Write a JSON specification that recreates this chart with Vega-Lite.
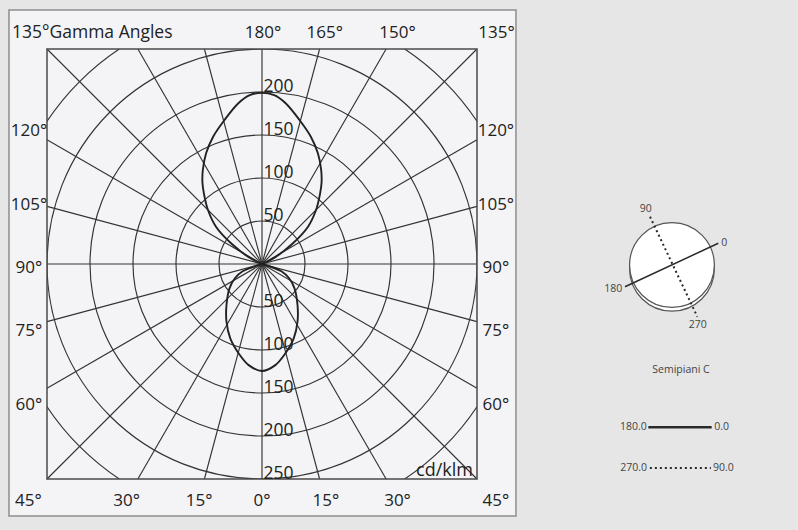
{
  "$schema": "https://vega.github.io/schema/vega-lite/v6.json",
  "width": 430,
  "height": 430,
  "autosize": {"type": "none"},
  "padding": {"left": 47, "top": 49, "right": 321, "bottom": 51},
  "background": "#e6e6e6",
  "config": {"view": {"stroke": null, "fill": null}, "text": {"font": "Open Sans"}},
  "datasets": {
    "rings": [{"r": 50}, {"r": 100}, {"r": 150}, {"r": 200}, {"r": 250}, {"r": 300}],
    "spokes": [
      {"xa": 0, "ya": 250, "xb": 0, "yb": -250},
      {"xa": 66.99, "ya": 250, "xb": -66.99, "yb": -250},
      {"xa": -66.99, "ya": 250, "xb": 66.99, "yb": -250},
      {"xa": 144.34, "ya": 250, "xb": -144.34, "yb": -250},
      {"xa": -144.34, "ya": 250, "xb": 144.34, "yb": -250},
      {"xa": 250, "ya": 250, "xb": -250, "yb": -250},
      {"xa": -250, "ya": 250, "xb": 250, "yb": -250},
      {"xa": 250, "ya": 144.34, "xb": -250, "yb": -144.34},
      {"xa": -250, "ya": 144.34, "xb": 250, "yb": -144.34},
      {"xa": 250, "ya": 66.99, "xb": -250, "yb": -66.99},
      {"xa": -250, "ya": 66.99, "xb": 250, "yb": -66.99},
      {"xa": 250, "ya": 0, "xb": -250, "yb": 0}
    ],
    "lobes": [
      {"lobe": "up", "o": 0, "x": 0, "y": 0},
      {"lobe": "up", "o": 1, "x": 16.3, "y": 8.5},
      {"lobe": "up", "o": 2, "x": 36, "y": 24.1},
      {"lobe": "up", "o": 3, "x": 53.5, "y": 43.4},
      {"lobe": "up", "o": 4, "x": 62.8, "y": 62.8},
      {"lobe": "up", "o": 5, "x": 67.6, "y": 82.2},
      {"lobe": "up", "o": 6, "x": 69.3, "y": 95.3},
      {"lobe": "up", "o": 7, "x": 68.8, "y": 109.3},
      {"lobe": "up", "o": 8, "x": 65, "y": 128.7},
      {"lobe": "up", "o": 9, "x": 56.8, "y": 148},
      {"lobe": "up", "o": 10, "x": 43.6, "y": 167.4},
      {"lobe": "up", "o": 11, "x": 27.5, "y": 186.9},
      {"lobe": "up", "o": 12, "x": 14.2, "y": 196.3},
      {"lobe": "up", "o": 13, "x": 0, "y": 199.2},
      {"lobe": "up", "o": 14, "x": -14.2, "y": 196.3},
      {"lobe": "up", "o": 15, "x": -27.5, "y": 186.9},
      {"lobe": "up", "o": 16, "x": -43.6, "y": 167.4},
      {"lobe": "up", "o": 17, "x": -56.8, "y": 148},
      {"lobe": "up", "o": 18, "x": -65, "y": 128.7},
      {"lobe": "up", "o": 19, "x": -68.8, "y": 109.3},
      {"lobe": "up", "o": 20, "x": -69.3, "y": 95.3},
      {"lobe": "up", "o": 21, "x": -67.6, "y": 82.2},
      {"lobe": "up", "o": 22, "x": -62.8, "y": 62.8},
      {"lobe": "up", "o": 23, "x": -53.5, "y": 43.4},
      {"lobe": "up", "o": 24, "x": -36, "y": 24.1},
      {"lobe": "up", "o": 25, "x": -16.3, "y": 8.5},
      {"lobe": "up", "o": 26, "x": 0, "y": 0},
      {"lobe": "down", "o": 0, "x": 0, "y": 0},
      {"lobe": "down", "o": 1, "x": 22.5, "y": -8.5},
      {"lobe": "down", "o": 2, "x": 31.5, "y": -16.6},
      {"lobe": "down", "o": 3, "x": 37.8, "y": -28.3},
      {"lobe": "down", "o": 4, "x": 41.3, "y": -47.7},
      {"lobe": "down", "o": 5, "x": 41.3, "y": -67.1},
      {"lobe": "down", "o": 6, "x": 36.9, "y": -86.4},
      {"lobe": "down", "o": 7, "x": 25.8, "y": -105.8},
      {"lobe": "down", "o": 8, "x": 15.5, "y": -117.6},
      {"lobe": "down", "o": 9, "x": 0, "y": -124.4},
      {"lobe": "down", "o": 10, "x": -15.5, "y": -117.6},
      {"lobe": "down", "o": 11, "x": -25.8, "y": -105.8},
      {"lobe": "down", "o": 12, "x": -36.9, "y": -86.4},
      {"lobe": "down", "o": 13, "x": -41.3, "y": -67.1},
      {"lobe": "down", "o": 14, "x": -41.3, "y": -47.7},
      {"lobe": "down", "o": 15, "x": -37.8, "y": -28.3},
      {"lobe": "down", "o": 16, "x": -31.5, "y": -16.6},
      {"lobe": "down", "o": 17, "x": -22.5, "y": -8.5},
      {"lobe": "down", "o": 18, "x": 0, "y": 0}
    ],
    "angleLabels": [
      {"t": "180°", "x": 1.2, "y": 262.4},
      {"t": "165°", "x": 72.9, "y": 262.4},
      {"t": "150°", "x": 157.6, "y": 262.4},
      {"t": "135°", "x": 272.7, "y": 262.4},
      {"t": "45°", "x": -271.7, "y": -281.4},
      {"t": "30°", "x": -157.3, "y": -281.4},
      {"t": "15°", "x": -73, "y": -281.4},
      {"t": "0°", "x": 0, "y": -281.4},
      {"t": "15°", "x": 74.2, "y": -281.4},
      {"t": "30°", "x": 157.6, "y": -281.4},
      {"t": "45°", "x": 271.9, "y": -281.4},
      {"t": "120°", "x": -271, "y": 148.3},
      {"t": "105°", "x": -271, "y": 62.8},
      {"t": "90°", "x": -271, "y": -10.5},
      {"t": "75°", "x": -271, "y": -84.3},
      {"t": "60°", "x": -271, "y": -169.8},
      {"t": "120°", "x": 272, "y": 148.3},
      {"t": "105°", "x": 272, "y": 62.8},
      {"t": "90°", "x": 272, "y": -10.5},
      {"t": "75°", "x": 272, "y": -84.3},
      {"t": "60°", "x": 272, "y": -169.8}
    ],
    "leftLabels": [
      {"t": "135°Gamma Angles", "x": -290.7, "y": 262.4},
      {"t": "50", "x": 1.7, "y": 50},
      {"t": "100", "x": 1.7, "y": 100},
      {"t": "150", "x": 1.7, "y": 150},
      {"t": "200", "x": 1.7, "y": 200},
      {"t": "50", "x": 1.7, "y": -50},
      {"t": "100", "x": 1.7, "y": -100},
      {"t": "150", "x": 1.7, "y": -150},
      {"t": "200", "x": 1.7, "y": -200},
      {"t": "250", "x": 1.7, "y": -250}
    ],
    "unitLabel": [{"t": "cd/klm", "x": 245.3, "y": -246.5}],
    "smallCenter": [
      {"t": "90", "x": 446.3, "y": 64},
      {"t": "0", "x": 537.4, "y": 24.1},
      {"t": "180", "x": 408.5, "y": -29.4},
      {"t": "270", "x": 506.6, "y": -70.6},
      {"t": "Semipiani C", "x": 487.2, "y": -123.3}
    ],
    "smallRight": [
      {"t": "180.0", "x": 447.3, "y": -190.1},
      {"t": "270.0", "x": 447.7, "y": -237.2}
    ],
    "smallLeft": [
      {"t": "0.0", "x": 525.9, "y": -190.1},
      {"t": "90.0", "x": 524.4, "y": -237.2}
    ],
    "discs": [
      {"part": "back", "x": 476.7, "y": -5.6},
      {"part": "front", "x": 476.7, "y": -1.2}
    ],
    "solidLines": [
      {"xa": 422.1, "ya": -26.4, "xb": 530.6, "yb": 24.1}
    ],
    "dottedLines": [
      {"xa": 451.2, "ya": 55, "xb": 506.2, "yb": -61.3}
    ],
    "legendSolid": [{"xa": 449.2, "ya": -189.9, "xb": 522.9, "yb": -189.9}],
    "legendDotted": [{"xa": 451, "ya": -237.2, "xb": 522, "yb": -237.2}]
  },
  "layer": [
    {
      "data": {"values": [{"id": "panel"}]},
      "mark": {"type": "rect", "fill": "#f4f4f6", "stroke": "#8e8e8e", "strokeWidth": 1.5},
      "encoding": {
        "x": {"datum": -294.2, "type": "quantitative", "scale": {"domain": [-250, 250], "nice": false, "zero": false}, "axis": null},
        "x2": {"datum": 295.3},
        "y": {"datum": 295.3, "type": "quantitative", "scale": {"domain": [-250, 250], "nice": false, "zero": false}, "axis": null},
        "y2": {"datum": -293}
      }
    },
    {
      "data": {"name": "rings"},
      "mark": {"type": "arc", "theta": 0, "theta2": 6.2832, "filled": false, "stroke": "#333333", "strokeWidth": 1.15, "clip": true},
      "encoding": {
        "radius": {"field": "r", "type": "quantitative", "stack": null, "scale": {"type": "linear", "domain": [0, 250], "range": [0, 215], "zero": true}}
      }
    },
    {
      "data": {"name": "spokes"},
      "mark": {"type": "rule", "stroke": "#333333", "strokeWidth": 1.15},
      "encoding": {
        "x": {"field": "xa", "type": "quantitative", "scale": {"domain": [-250, 250], "nice": false, "zero": false}, "axis": null},
        "y": {"field": "ya", "type": "quantitative", "scale": {"domain": [-250, 250], "nice": false, "zero": false}, "axis": null},
        "x2": {"field": "xb"},
        "y2": {"field": "yb"}
      }
    },
    {
      "data": {"values": [{"id": "square"}]},
      "mark": {"type": "rect", "fillOpacity": 0, "stroke": "#4a4a4a", "strokeWidth": 1.5},
      "encoding": {
        "x": {"datum": -250, "type": "quantitative", "scale": {"domain": [-250, 250], "nice": false, "zero": false}, "axis": null},
        "x2": {"datum": 250},
        "y": {"datum": 250, "type": "quantitative", "scale": {"domain": [-250, 250], "nice": false, "zero": false}, "axis": null},
        "y2": {"datum": -250}
      }
    },
    {
      "data": {"name": "lobes"},
      "mark": {"type": "line", "interpolate": "catmull-rom", "stroke": "#222222", "strokeWidth": 1.9},
      "encoding": {
        "x": {"field": "x", "type": "quantitative", "scale": {"domain": [-250, 250], "nice": false, "zero": false}, "axis": null},
        "y": {"field": "y", "type": "quantitative", "scale": {"domain": [-250, 250], "nice": false, "zero": false}, "axis": null},
        "detail": {"field": "lobe", "type": "nominal"},
        "order": {"field": "o", "type": "quantitative"}
      }
    },
    {
      "data": {"name": "angleLabels"},
      "mark": {"type": "text", "align": "center", "baseline": "alphabetic", "fontSize": 17, "fill": "#222222"},
      "encoding": {
        "x": {"field": "x", "type": "quantitative", "scale": {"domain": [-250, 250], "nice": false, "zero": false}, "axis": null},
        "y": {"field": "y", "type": "quantitative", "scale": {"domain": [-250, 250], "nice": false, "zero": false}, "axis": null},
        "text": {"field": "t"}
      }
    },
    {
      "data": {"name": "leftLabels"},
      "mark": {"type": "text", "align": "left", "baseline": "alphabetic", "fontSize": 17.5, "fill": "#222222"},
      "encoding": {
        "x": {"field": "x", "type": "quantitative", "scale": {"domain": [-250, 250], "nice": false, "zero": false}, "axis": null},
        "y": {"field": "y", "type": "quantitative", "scale": {"domain": [-250, 250], "nice": false, "zero": false}, "axis": null},
        "text": {"field": "t"}
      }
    },
    {
      "data": {"name": "unitLabel"},
      "mark": {"type": "text", "align": "right", "baseline": "alphabetic", "fontSize": 18, "fill": "#222222"},
      "encoding": {
        "x": {"field": "x", "type": "quantitative", "scale": {"domain": [-250, 250], "nice": false, "zero": false}, "axis": null},
        "y": {"field": "y", "type": "quantitative", "scale": {"domain": [-250, 250], "nice": false, "zero": false}, "axis": null},
        "text": {"field": "t"}
      }
    },
    {
      "data": {"name": "discs"},
      "mark": {"type": "point", "shape": "circle", "size": 7190, "filled": true, "fill": "#ffffff", "fillOpacity": 1, "stroke": "#555555", "strokeWidth": 1.2, "opacity": 1},
      "encoding": {
        "x": {"field": "x", "type": "quantitative", "scale": {"domain": [-250, 250], "nice": false, "zero": false}, "axis": null},
        "y": {"field": "y", "type": "quantitative", "scale": {"domain": [-250, 250], "nice": false, "zero": false}, "axis": null},
        "order": {"field": "part", "type": "nominal"}
      }
    },
    {
      "data": {"name": "solidLines"},
      "mark": {"type": "rule", "stroke": "#2a2a2a", "strokeWidth": 1.5},
      "encoding": {
        "x": {"field": "xa", "type": "quantitative", "scale": {"domain": [-250, 250], "nice": false, "zero": false}, "axis": null},
        "y": {"field": "ya", "type": "quantitative", "scale": {"domain": [-250, 250], "nice": false, "zero": false}, "axis": null},
        "x2": {"field": "xb"},
        "y2": {"field": "yb"}
      }
    },
    {
      "data": {"name": "dottedLines"},
      "mark": {"type": "rule", "stroke": "#2a2a2a", "strokeWidth": 2, "strokeDash": [2, 3]},
      "encoding": {
        "x": {"field": "xa", "type": "quantitative", "scale": {"domain": [-250, 250], "nice": false, "zero": false}, "axis": null},
        "y": {"field": "ya", "type": "quantitative", "scale": {"domain": [-250, 250], "nice": false, "zero": false}, "axis": null},
        "x2": {"field": "xb"},
        "y2": {"field": "yb"}
      }
    },
    {
      "data": {"name": "legendSolid"},
      "mark": {"type": "rule", "stroke": "#2a2a2a", "strokeWidth": 2.6},
      "encoding": {
        "x": {"field": "xa", "type": "quantitative", "scale": {"domain": [-250, 250], "nice": false, "zero": false}, "axis": null},
        "y": {"field": "ya", "type": "quantitative", "scale": {"domain": [-250, 250], "nice": false, "zero": false}, "axis": null},
        "x2": {"field": "xb"},
        "y2": {"field": "yb"}
      }
    },
    {
      "data": {"name": "legendDotted"},
      "mark": {"type": "rule", "stroke": "#2a2a2a", "strokeWidth": 2, "strokeDash": [2, 3]},
      "encoding": {
        "x": {"field": "xa", "type": "quantitative", "scale": {"domain": [-250, 250], "nice": false, "zero": false}, "axis": null},
        "y": {"field": "ya", "type": "quantitative", "scale": {"domain": [-250, 250], "nice": false, "zero": false}, "axis": null},
        "x2": {"field": "xb"},
        "y2": {"field": "yb"}
      }
    },
    {
      "data": {"name": "smallCenter"},
      "mark": {"type": "text", "align": "center", "baseline": "middle", "fontSize": 10.5, "fill": "#444444"},
      "encoding": {
        "x": {"field": "x", "type": "quantitative", "scale": {"domain": [-250, 250], "nice": false, "zero": false}, "axis": null},
        "y": {"field": "y", "type": "quantitative", "scale": {"domain": [-250, 250], "nice": false, "zero": false}, "axis": null},
        "text": {"field": "t"}
      }
    },
    {
      "data": {"name": "smallRight"},
      "mark": {"type": "text", "align": "right", "baseline": "middle", "fontSize": 10.5, "fill": "#444444"},
      "encoding": {
        "x": {"field": "x", "type": "quantitative", "scale": {"domain": [-250, 250], "nice": false, "zero": false}, "axis": null},
        "y": {"field": "y", "type": "quantitative", "scale": {"domain": [-250, 250], "nice": false, "zero": false}, "axis": null},
        "text": {"field": "t"}
      }
    },
    {
      "data": {"name": "smallLeft"},
      "mark": {"type": "text", "align": "left", "baseline": "middle", "fontSize": 10.5, "fill": "#444444"},
      "encoding": {
        "x": {"field": "x", "type": "quantitative", "scale": {"domain": [-250, 250], "nice": false, "zero": false}, "axis": null},
        "y": {"field": "y", "type": "quantitative", "scale": {"domain": [-250, 250], "nice": false, "zero": false}, "axis": null},
        "text": {"field": "t"}
      }
    }
  ]
}
